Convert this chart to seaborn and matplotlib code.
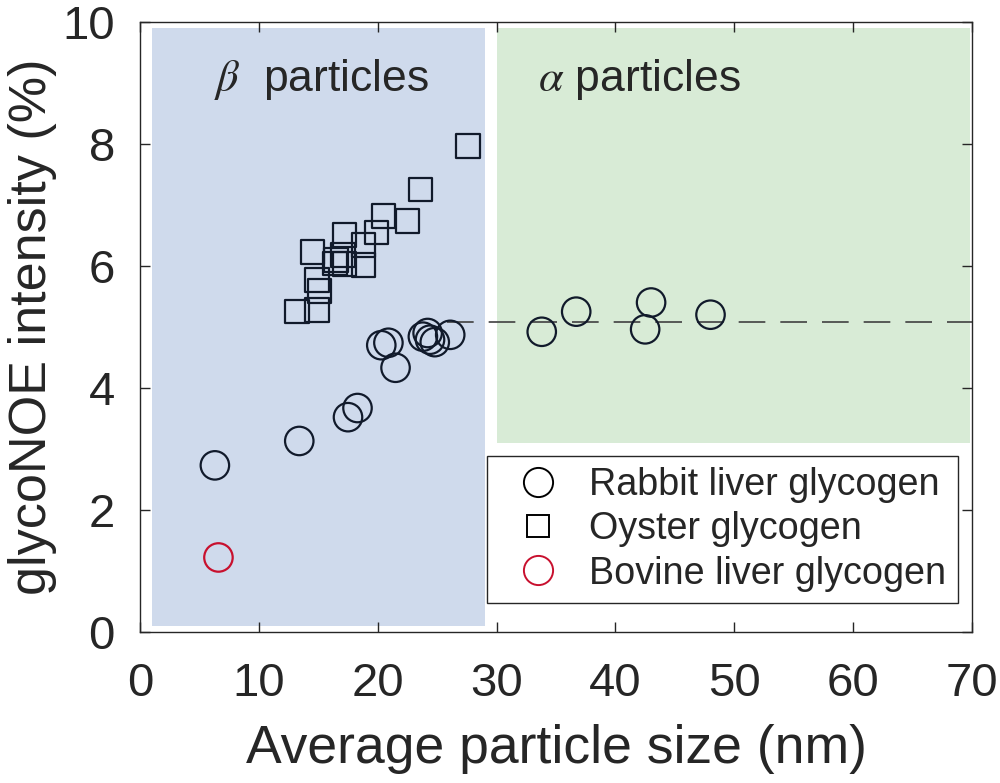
import numpy as np
import pandas as pd
import seaborn as sns
import matplotlib.pyplot as plt
from matplotlib.patches import Rectangle
from matplotlib.lines import Line2D

# Rabbit liver glycogen (circles)
rabbit_size = [6.3, 13.4, 17.5, 18.3, 21.5, 20.3, 20.9, 23.8, 24.2, 24.4, 24.8, 26.1,
               33.8, 36.7, 43.0, 42.5, 48.0]
rabbit_noe = [2.73, 3.13, 3.52, 3.67, 4.33, 4.70, 4.74, 4.84, 4.90, 4.79, 4.75, 4.87,
              4.92, 5.25, 5.40, 4.96, 5.20]

# Oyster glycogen (squares)
oyster_size = [27.6, 23.6, 20.5, 22.5, 19.9, 17.2, 18.8, 14.5, 17.1, 16.5, 17.2, 18.8,
               14.9, 15.1, 13.2, 14.9, 16.4]
oyster_noe = [7.97, 7.25, 6.82, 6.74, 6.55, 6.51, 6.34, 6.23, 6.18, 6.10, 6.03, 6.02,
              5.77, 5.59, 5.25, 5.28, 6.04]

# Bovine liver glycogen
bovine_size = [6.6]
bovine_noe = [1.22]

alpha_level = 5.08

sns.set_style("ticks")
plt.rcParams['font.family'] = ['Liberation Sans', 'DejaVu Sans']
plt.rcParams['mathtext.fontset'] = 'stix'

dark = '#111a2b'
red = '#c8102e'
txt = '#262626'

fig = plt.figure(figsize=(10, 7.83), dpi=100)
ax = fig.add_axes([0.14, 0.193, 0.832, 0.779])

# shaded regions for beta and alpha particles
ax.add_patch(Rectangle((1, 0.1), 28, 9.8, facecolor='#cfdaec', edgecolor='none', zorder=0))
ax.add_patch(Rectangle((30, 3.1), 39.8, 6.8, facecolor='#d8ebd6', edgecolor='none', zorder=0))

ax.plot([25.8, 70], [alpha_level, alpha_level], ls=(0, (16, 9)), color='#404040', lw=1.2, zorder=1)

rabbit = pd.DataFrame({'size': rabbit_size, 'noe': rabbit_noe})
oyster = pd.DataFrame({'size': oyster_size, 'noe': oyster_noe})
bovine = pd.DataFrame({'size': bovine_size, 'noe': bovine_noe})

sns.scatterplot(data=rabbit, x='size', y='noe', marker='o', s=420, facecolors='none',
                edgecolor=dark, linewidth=1.6, ax=ax, zorder=3)
sns.scatterplot(data=oyster, x='size', y='noe', marker='s', s=290, facecolors='none',
                edgecolor=dark, linewidth=1.6, ax=ax, zorder=3)
sns.scatterplot(data=bovine, x='size', y='noe', marker='o', s=420, facecolors='none',
                edgecolor=red, linewidth=1.6, ax=ax, zorder=3)

ax.text(15.3, 9.05, r'$\beta$  particles', fontsize=32, ha='center', va='center')
ax.text(42.0, 9.05, r'$\alpha$ particles', fontsize=32, ha='center', va='center')

ax.set_xlim(0, 70)
ax.set_ylim(0, 10)
ax.set_xticks(range(0, 71, 10))
ax.set_yticks(range(0, 11, 2))
ax.set_xlabel('Average particle size (nm)', fontsize=38.5, color=txt, labelpad=13)
ax.set_ylabel('glycoNOE intensity (%)', fontsize=37.5, color=txt, labelpad=4)
ax.tick_params(direction='in', length=7, width=1, labelsize=34, colors=txt,
               top=True, right=True)
ax.tick_params(axis='y', pad=18)
ax.tick_params(axis='x', pad=22)
for sp in ax.spines.values():
    sp.set_visible(True)
    sp.set_color(txt)
    sp.set_linewidth(1)

handles = [
    Line2D([], [], marker='o', ls='none', markersize=21, markerfacecolor='none',
           markeredgecolor='black', markeredgewidth=1.4, label='Rabbit liver glycogen'),
    Line2D([], [], marker='s', ls='none', markersize=16, markerfacecolor='none',
           markeredgecolor='black', markeredgewidth=1.4, label='Oyster glycogen'),
    Line2D([], [], marker='o', ls='none', markersize=21, markerfacecolor='none',
           markeredgecolor=red, markeredgewidth=1.4, label='Bovine liver glycogen'),
]
leg = ax.legend(handles=handles, loc='lower right', bbox_to_anchor=(0.983, 0.0475),
                borderaxespad=0, fontsize=27.2, frameon=True, fancybox=False,
                edgecolor=txt, framealpha=1, borderpad=0.3, labelspacing=0.22,
                handletextpad=0.32, handlelength=2.1)
leg.get_frame().set_linewidth(1)

fig.savefig('out.png', dpi=100)
